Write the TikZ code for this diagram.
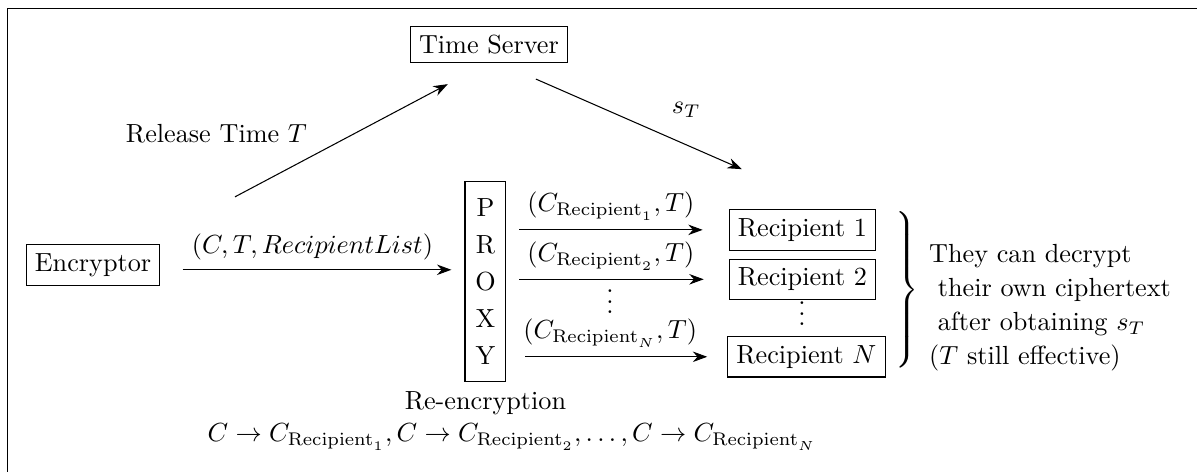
\documentclass[tikz,border=0pt]{standalone}
\usetikzlibrary{positioning,arrows.meta}
\tikzstyle{party}=[rectangle, draw]
\tikzstyle{proxybox}=[rectangle, draw, align=center, minimum width=15.6pt, minimum height=76.3pt]
\tikzstyle{msg}=[-{Stealth[length=5.5pt,width=4pt]}]
\tikzstyle{dots}=[inner sep=0pt]

\begin{document}
\begin{tikzpicture}
\useasboundingbox (0,0) rectangle (16.06,6.33);
\draw (16.06,6.21) -- (0.10,6.21) -- (0.10,0); % frame

\node[party] (ts) at (6.56,5.735) {Time Server};
\node[party] (enc) at (1.248,2.777) {Encryptor};
\node[proxybox] (proxy) at (6.513,2.549) {P\\[2.1pt]R\\[2.1pt]O\\[2.1pt]X\\[2.1pt]Y};
\node (reenc) [below=0pt of proxy] {Re-encryption};
\node (remap) at (6.869,0.47) {$C \rightarrow C_{\mathrm{Recipient}_1}, C \rightarrow C_{\mathrm{Recipient}_2},\ldots, C \rightarrow C_{\mathrm{Recipient}_N}$};

\node[party] (r1) at (10.766,3.246) {Recipient 1};
\node[party] (r2) [below=0.107cm of r1] {Recipient 2};
\node[dots] (rdots) at (10.759,2.227) {$\vdots$};
\node[party] (rN) at (10.819,1.543) {Recipient $N$};

\node[dots] (brace) at (12.147,2.442) {$\left.\vrule height 33pt depth 28pt width 0pt\right\}$};
\node[align=left, anchor=west] (note) at (12.342,2.2) {They can decrypt\\[1pt]\ their own ciphertext\\[1pt]\ after obtaining $s_T$\\[1pt]($T$ still effective)};

\node (rlbl) at (2.904,4.534) {Release Time $T$};
\coordinate (rt) at (3.153,3.689);

\draw[msg] (rt) -- ([shift={(0.51,-0.282)}]ts.south west);
\draw[msg] ([shift={(0.63,-0.214)}]ts.south) -- node[pos=.73, above=7pt] (sT) {$s_T$} ([shift={(-0.812,0.536)}]r1.north);

\draw[msg, shorten <=8.5pt, shorten >=5pt] ([yshift=-1.9pt]enc.east) -- ([yshift=-1.9pt]enc.east -| proxy.west) node[midway, above] (list) {$(C,T,RecipientList)$};

\draw[msg, shorten <=5pt, shorten >=9.9pt] (proxy.east |- r1) -- node[pos=.47, above] (c1) {$(C_{\mathrm{Recipient}_1},T)$} (r1);
\draw[msg, shorten <=5pt, shorten >=9.5pt] (proxy.east |- r2) -- node[pos=.47, above] (c2) {$(C_{\mathrm{Recipient}_2},T)$} (r2);
\node[dots] (cdots) at (8.183,2.388) {$\vdots$};
\draw[msg, shorten <=7.25pt, shorten >=7.6pt] (proxy.east |- rN) -- node[pos=.47, above] (cN) {$(C_{\mathrm{Recipient}_N},T)$} (rN);

\end{tikzpicture}
\end{document}
